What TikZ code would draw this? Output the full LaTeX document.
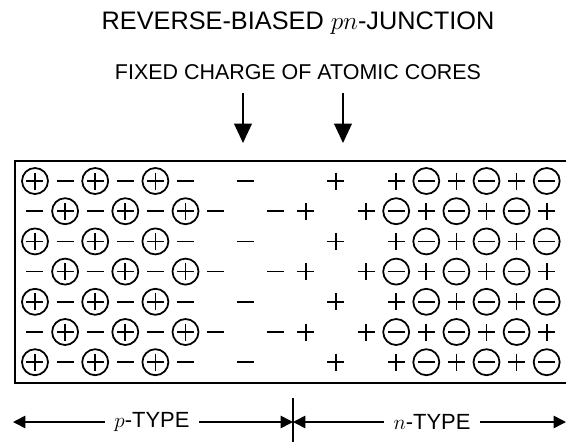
\documentclass[tikz,border=0pt]{standalone}
\usepackage{fontspec}
\setmainfont{Liberation Sans}
\usetikzlibrary{arrows.meta}

\begin{document}
\begin{tikzpicture}[x=0.02cm, y=-0.02cm,
        heading/.style={font=\fontsize{14.4}{16}\selectfont},
        subheading/.style={font=\fontsize{12.2}{14}\selectfont},
        typelbl/.style={font=\fontsize{12.5}{14}\selectfont, inner sep=5pt},
        arrow/.style={-{Triangle[length=11pt, width=10pt]}, line width=1.1pt},
        dimarrow/.style={-{Triangle[length=7pt, width=7pt]}, line width=0.9pt},
        sign/.style={line width=1pt},
        pics/cplus/.style={code={
            \draw[sign] (0,0) circle[radius=13];
            \draw[sign] (-8.5,0) -- (8.5,0) (0,-8.5) -- (0,8.5);}},
        pics/cminus/.style={code={
            \draw[sign] (0,0) circle[radius=13];
            \draw[sign] (-8.5,0) -- (8.5,0);}},
        pics/bplus/.style={code={
            \draw[sign] (-8.5,0) -- (8.5,0) (0,-8.5) -- (0,8.5);}},
        pics/bminus/.style={code={
            \draw[sign] (-8.5,0) -- (8.5,0);}}
    ]
        \useasboundingbox (0,0) rectangle (566,441);

        % Headings
        \node[heading] (title) at (298, 23) {REVERSE-BIASED $pn$-JUNCTION};
        \node[subheading] (fixed) at (298, 72) {FIXED CHARGE OF ATOMIC CORES};

        \coordinate (arrtop1) at (243, 93);
        \coordinate (arrbot1) at (243, 143);
        \coordinate (arrtop2) at (343, 93);
        \coordinate (arrbot2) at (343, 143);
        \draw[arrow] (arrtop1) -- (arrbot1);
        \draw[arrow] (arrtop2) -- (arrbot2);

        % Crystal (runs off the right edge)
        \draw[line width=1.1pt] (590, 161) -- (15, 161) -- (15, 383) -- (590, 383);

        \foreach \r in {0,...,6} {
            \pgfmathtruncatemacro\rowpar{mod(\r,2)}
            \pgfmathsetmacro\yy{181+30.2*\r}
            % p side
            \foreach \k in {0,...,5} {
                \pgfmathtruncatemacro\colpar{mod(\k+\r,2)}
                \ifnum\colpar=0
                    \pic at ({35+30.1*\k}, \yy) {cplus};
                \else
                    \pic at ({35+30.1*\k}, \yy) {bminus};
                \fi
            }
            % depletion region
            \ifnum\rowpar=0
                \pic at ({35+30.1*7}, \yy) {bminus};
                \pic at ({35+30.1*10}, \yy) {bplus};
            \else
                \pic at ({35+30.1*6}, \yy) {bminus};
                \pic at ({35+30.1*8}, \yy) {bminus};
                \pic at ({35+30.1*9}, \yy) {bplus};
                \pic at ({35+30.1*11}, \yy) {bplus};
            \fi
            % n side
            \foreach \k in {12,...,17} {
                \pgfmathtruncatemacro\colpar{mod(\k+\r,2)}
                \ifnum\colpar=1
                    \pic at ({35+30.1*\k}, \yy) {cminus};
                \else
                    \pic at ({35+30.1*\k}, \yy) {bplus};
                \fi
            }
        }

        % Regions
        \node[typelbl] (ptype) at (152, 422) {$p$-TYPE};
        \node[typelbl] (ntype) at (432, 422) {$n$-TYPE};
        \coordinate (pend) at (13, 422);
        \coordinate (junc) at (293, 422);
        \coordinate (nend) at (566, 422);
        \coordinate (junctop) at (293, 398);
        \coordinate (juncbot) at (293, 445);

        \draw[line width=0.9pt] (junctop) -- (juncbot);
        \draw[dimarrow] (ptype) -- (pend);
        \draw[dimarrow] (ptype) -- (junc);
        \draw[dimarrow] (ntype) -- (junc);
        \draw[dimarrow] (ntype) -- (nend);
    \end{tikzpicture}
\end{document}
